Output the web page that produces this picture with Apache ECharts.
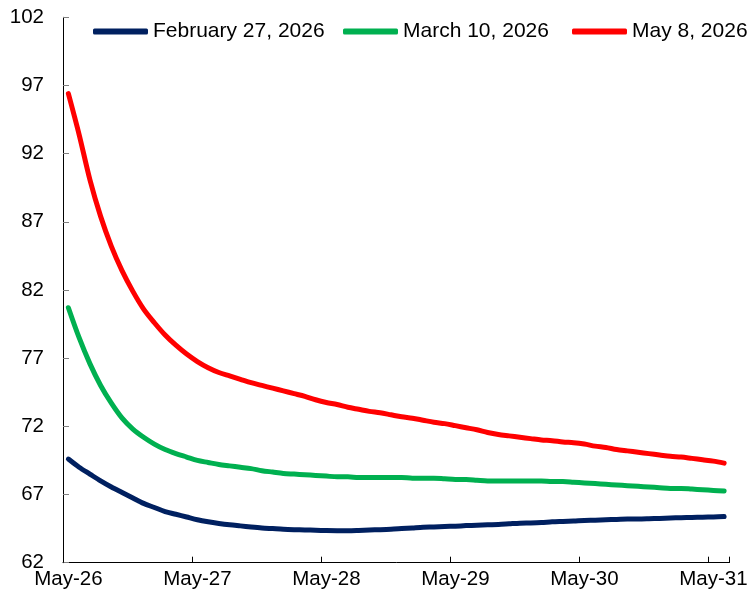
<!DOCTYPE html>
<html>
<head>
<meta charset="utf-8">
<script src="https://cdn.jsdelivr.net/npm/echarts@6/dist/echarts.min.js"></script>
<style>
  html, body { margin: 0; padding: 0; background: #fff; }
  #chart { width: 751px; height: 600px; }
</style>
</head>
<body>
<div id="chart"></div>
<script>
// Monthly curves, May-26 through Jun-31
const monthNames = ['Jan','Feb','Mar','Apr','May','Jun','Jul','Aug','Sep','Oct','Nov','Dec'];
const categories = [];
for (let k = 0; k < 62; k++) {
  const m = (4 + k) % 12;
  const y = 26 + Math.floor((4 + k) / 12);
  categories.push(monthNames[m] + '-' + y);
}

const seriesNames = ['February 27, 2026', 'March 10, 2026', 'May 8, 2026'];

const feb27 = [
  69.6, 69.0, 68.5, 68.0, 67.55, 67.15, 66.75, 66.35, 66.05, 65.75,
  65.55, 65.35, 65.15, 65.0, 64.88, 64.78, 64.7, 64.62, 64.55, 64.5,
  64.45, 64.42, 64.4, 64.38, 64.36, 64.35, 64.35, 64.37, 64.4, 64.42,
  64.45, 64.5, 64.55, 64.6, 64.62, 64.65, 64.68, 64.72, 64.75, 64.78,
  64.8, 64.85, 64.9, 64.92, 64.95, 65.0, 65.03, 65.06, 65.1, 65.12,
  65.15, 65.17, 65.2, 65.2, 65.22, 65.25, 65.28, 65.3, 65.32, 65.34,
  65.36, 65.38
];

const mar10 = [
  80.7, 78.5, 76.6, 75.0, 73.7, 72.6, 71.8, 71.2, 70.7, 70.3,
  70.0, 69.75, 69.5, 69.35, 69.2, 69.1, 69.0, 68.9, 68.75, 68.65,
  68.55, 68.5, 68.45, 68.4, 68.35, 68.3, 68.3, 68.25, 68.25, 68.25,
  68.25, 68.25, 68.2, 68.2, 68.2, 68.15, 68.1, 68.1, 68.05, 68.0,
  68.0, 68.0, 68.0, 68.0, 68.0, 67.95, 67.95, 67.9, 67.85, 67.8,
  67.75, 67.7, 67.65, 67.6, 67.55, 67.5, 67.45, 67.45, 67.4, 67.35,
  67.3, 67.25
];

const may8 = [
  96.4, 93.4, 90.1, 87.4, 85.2, 83.4, 81.9, 80.6, 79.6, 78.7,
  77.95, 77.3, 76.75, 76.3, 75.95, 75.7, 75.45, 75.2, 75.0, 74.8,
  74.6, 74.4, 74.2, 73.95, 73.75, 73.6, 73.4, 73.25, 73.1, 73.0,
  72.85, 72.7, 72.6, 72.45, 72.3, 72.2, 72.05, 71.9, 71.75, 71.55,
  71.4, 71.3, 71.2, 71.1, 71.0, 70.95, 70.85, 70.8, 70.7, 70.55,
  70.45, 70.3, 70.2, 70.1, 70.0, 69.9, 69.8, 69.75, 69.65, 69.55,
  69.45, 69.3
];

const colors = ['#002060', '#00B050', '#FF0000'];
const values = [feb27, mar10, may8];
const FONT = 'Liberation Sans, Arial, sans-serif';

const chart = echarts.init(document.getElementById('chart'), null, { renderer: 'canvas' });

const legendLeft = [88, 338, 567];

chart.setOption({
  animation: false,
  backgroundColor: '#ffffff',
  legend: seriesNames.map((name, i) => ({
    data: [name],
    left: legendLeft[i],
    top: 16,
    icon: 'roundRect',
    itemWidth: 55,
    itemHeight: 6,
    itemGap: 0,
    textStyle: { fontFamily: FONT, fontSize: 21, color: '#000' },
    selectedMode: false
  })),
  grid: {
    left: 63, right: 21.5, top: 17.3, bottom: 37.3,
    containLabel: false,
    outerBoundsMode: 'none'
  },
  xAxis: {
    type: 'category',
    data: categories,
    boundaryGap: true,
    axisLine: { lineStyle: { color: '#000', width: 1 } },
    axisTick: { show: true, inside: true, length: 6, interval: 11, alignWithLabel: false, lineStyle: { color: '#000' } },
    axisLabel: { interval: 11, margin: 6, fontFamily: FONT, fontSize: 20.5, color: '#000' },
    splitLine: { show: false }
  },
  yAxis: {
    type: 'value',
    min: 62, max: 102, interval: 5,
    axisLine: { show: true, lineStyle: { color: '#000', width: 1 } },
    axisTick: { show: true, inside: true, length: 6, lineStyle: { color: '#7f7f7f' } },
    axisLabel: { margin: 19, fontFamily: FONT, fontSize: 20.5, color: '#000' },
    splitLine: { show: false }
  },
  series: seriesNames.map((name, i) => ({
    name: name,
    type: 'line',
    data: values[i],
    symbol: 'none',
    smooth: 0.3,
    color: colors[i],
    lineStyle: { width: 5, color: colors[i], cap: 'round', join: 'round' }
  }))
});
</script>
</body>
</html>
